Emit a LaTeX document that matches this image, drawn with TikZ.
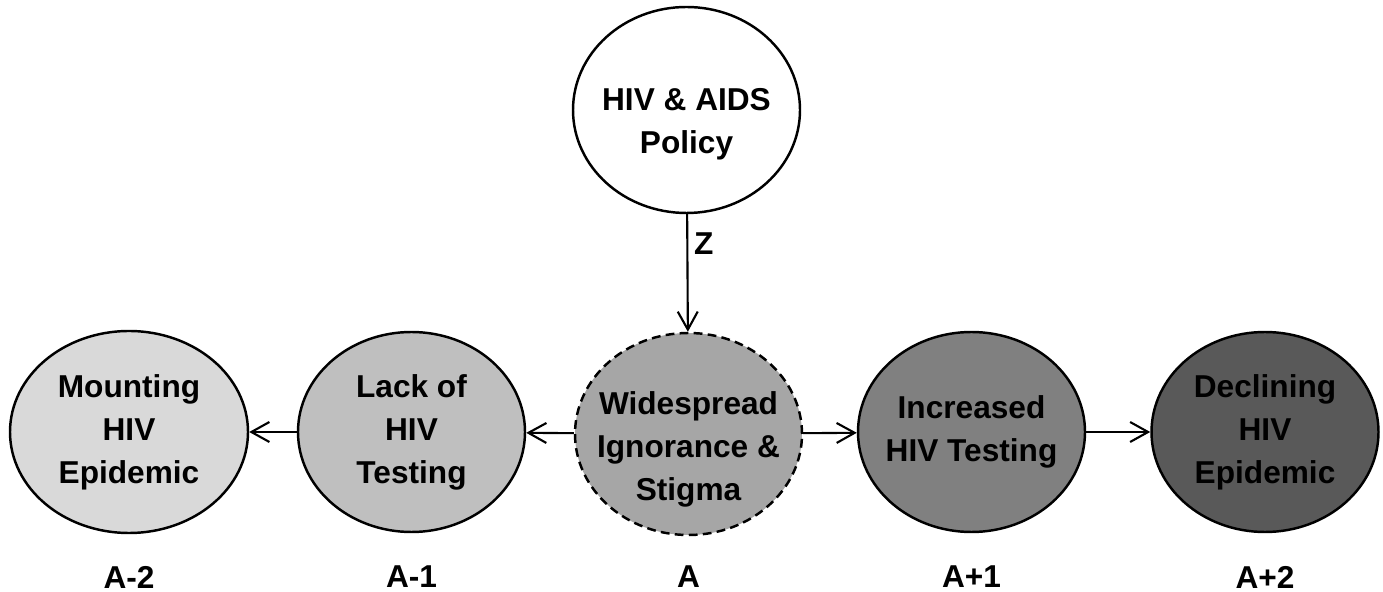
\documentclass[tikz,border=0pt]{standalone}
\usepackage{fontspec}
\setmainfont{Liberation Sans}
\usepackage{tikz}
\usetikzlibrary{arrows.meta, positioning, shapes.geometric}
% lowers the text of a stage by making its first line taller
\newcommand{\droptext}[1]{\rule{0pt}{#1}}

\begin{document}
\begin{tikzpicture}[
    >={Straight Barb[length=3.6mm, width=4mm]},
    stage/.style={ellipse, draw, line width=1.4pt, inner sep=-0.6cm, minimum width=4.54cm,
                  minimum height=4cm, align=center,
                  font=\fontsize{18}{24.5}\selectfont\bfseries},
    arr/.style={->, line width=1.2pt},
    lbl/.style={font=\fontsize{18}{22}\selectfont\bfseries},
]
\useasboundingbox (0,0) rectangle (27.66,11.84);
% === Policy on top, acting on the central stage ===
\node[stage, fill=white, minimum height=4.12cm] (policy) at (13.73,9.64) {\droptext{1.02cm}HIV \& AIDS\\Policy};
% === Chain of stages, from the worse outcome (left) to the better one (right) ===
\node[stage, fill=black!15, minimum width=4.76cm, minimum height=4.04cm] (mount) at (2.58,3.2) {Mounting\\HIV\\Epidemic};
\node[stage, fill=black!25] (lack) at (8.23,3.2) {Lack of\\HIV\\Testing};
\node[stage, fill=black!35, dashed, dash pattern=on 5pt off 3pt, minimum height=4.04cm] (wide) at (13.77,3.16) {\droptext{1.09cm}Widespread\\Ignorance \&\\Stigma};
\node[stage, fill=black!50] (incr) at (19.43,3.2) {Increased\\HIV Testing};
\node[stage, fill=black!65] (decl) at (25.30,3.2) {Declining\\HIV\\Epidemic};
\draw[arr] (policy) -- node[lbl, right, pos=0.25] (zlbl) {Z} (wide);
\draw[arr] (wide) -- (lack);
\draw[arr] (lack) -- (mount);
\draw[arr] (wide) -- (incr);
\draw[arr] (incr) -- (decl);
% === Time labels under each stage ===
\node[lbl] (tm2) at (mount |- 0,0.3) {A-2};
\node[lbl] (tm1) at (lack |- 0,0.3) {A-1};
\node[lbl] (t0) at (wide |- 0,0.3) {A};
\node[lbl] (tp1) at (incr |- 0,0.3) {A+1};
\node[lbl] (tp2) at (decl |- 0,0.3) {A+2};
\end{tikzpicture}
\end{document}
